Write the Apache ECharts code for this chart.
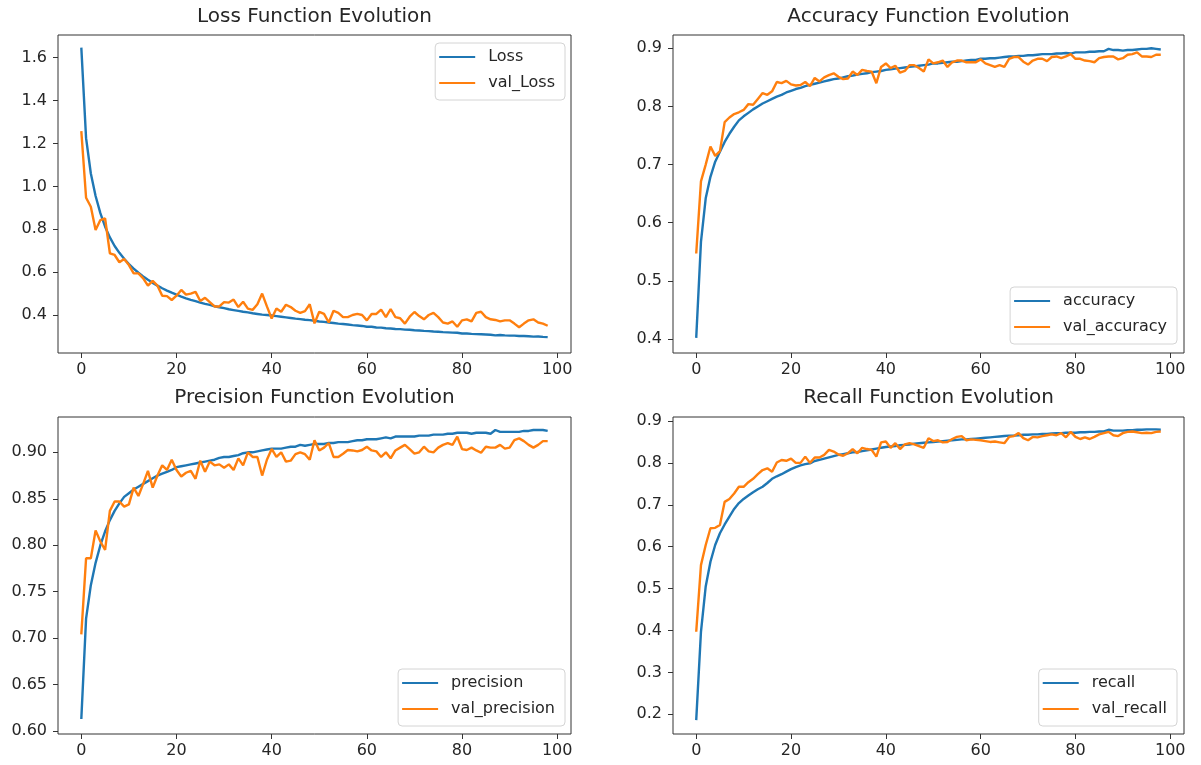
<!DOCTYPE html>
<html>
<head>
<meta charset="utf-8">
<script src="https://cdn.jsdelivr.net/npm/echarts@6/dist/echarts.min.js"></script>
<style>
html,body{margin:0;padding:0;background:#fff;}
#chart{width:1201px;height:765px;}
</style>
</head>
<body>
<div id="chart"></div>
<script>
// ---------- data ----------
const epochs = Array.from({length: 99}, (_, i) => i);

const titles = ['Loss Function Evolution', 'Accuracy Function Evolution', 'Precision Function Evolution', 'Recall Function Evolution'];
const seriesNames = [['Loss', 'val_Loss'], ['accuracy', 'val_accuracy'], ['precision', 'val_precision'], ['recall', 'val_recall']];

const xTicks = [0, 20, 40, 60, 80, 100];
const lossTicks = [0.4, 0.6, 0.8, 1.0, 1.2, 1.4, 1.6];
const accTicks = [0.4, 0.5, 0.6, 0.7, 0.8, 0.9];
const precTicks = [0.60, 0.65, 0.70, 0.75, 0.80, 0.85, 0.90];
const recTicks = [0.2, 0.3, 0.4, 0.5, 0.6, 0.7, 0.8, 0.9];

const loss = [1.647,1.225,1.06,0.955,0.875,0.812,0.762,0.722,0.69,0.662,
0.638,0.616,0.597,0.58,0.564,0.55,0.537,0.525,0.514,0.504,
0.495,0.486,0.478,0.471,0.465,0.458,0.452,0.447,0.441,0.436,
0.432,0.427,0.423,0.419,0.415,0.412,0.408,0.405,0.402,0.4,
0.398,0.395,0.392,0.389,0.386,0.383,0.381,0.378,0.376,0.373,
0.37,0.368,0.365,0.363,0.36,0.358,0.356,0.353,0.351,0.349,
0.345,0.345,0.342,0.341,0.338,0.337,0.335,0.334,0.332,0.331,
0.329,0.328,0.326,0.325,0.323,0.322,0.32,0.319,0.318,0.317,
0.314,0.314,0.312,0.311,0.31,0.309,0.308,0.305,0.307,0.305,
0.304,0.304,0.302,0.302,0.301,0.299,0.3,0.298,0.297];

const valLoss = [1.258,0.947,0.905,0.796,0.843,0.851,0.688,0.68,0.646,0.661,
0.633,0.594,0.594,0.571,0.537,0.559,0.537,0.49,0.488,0.47,
0.49,0.517,0.495,0.5,0.508,0.465,0.48,0.46,0.44,0.44,
0.46,0.458,0.472,0.437,0.462,0.43,0.424,0.45,0.5,0.44,
0.384,0.43,0.415,0.448,0.437,0.42,0.41,0.418,0.45,0.361,
0.415,0.405,0.365,0.42,0.41,0.39,0.39,0.4,0.405,0.4,
0.375,0.405,0.405,0.425,0.39,0.428,0.39,0.385,0.36,0.392,
0.414,0.395,0.38,0.4,0.41,0.39,0.365,0.36,0.37,0.345,
0.375,0.38,0.37,0.41,0.415,0.39,0.38,0.377,0.37,0.375,
0.375,0.36,0.343,0.36,0.375,0.38,0.365,0.36,0.35];

const acc = [0.402,0.567,0.642,0.679,0.705,0.722,0.739,0.753,0.765,0.776,
0.783,0.789,0.795,0.8,0.805,0.809,0.813,0.817,0.82,0.824,
0.827,0.83,0.832,0.835,0.837,0.839,0.841,0.843,0.845,0.847,
0.848,0.85,0.852,0.853,0.855,0.856,0.857,0.859,0.86,0.861,
0.863,0.864,0.865,0.866,0.867,0.868,0.869,0.87,0.871,0.872,
0.874,0.874,0.875,0.876,0.877,0.877,0.878,0.879,0.88,0.88,
0.882,0.882,0.883,0.883,0.884,0.885,0.886,0.886,0.887,0.887,
0.888,0.888,0.889,0.89,0.89,0.89,0.891,0.891,0.892,0.891,
0.893,0.893,0.893,0.894,0.894,0.895,0.895,0.899,0.897,0.897,
0.896,0.897,0.897,0.898,0.899,0.899,0.9,0.899,0.898];

const valAcc = [0.547,0.671,0.7,0.731,0.715,0.723,0.773,0.781,0.787,0.79,
0.794,0.804,0.803,0.813,0.823,0.82,0.826,0.842,0.84,0.844,
0.838,0.836,0.837,0.842,0.835,0.849,0.843,0.85,0.854,0.857,
0.851,0.847,0.848,0.86,0.854,0.863,0.861,0.86,0.84,0.868,
0.874,0.866,0.87,0.858,0.861,0.871,0.871,0.866,0.86,0.881,
0.874,0.876,0.879,0.868,0.876,0.879,0.879,0.876,0.876,0.876,
0.881,0.874,0.871,0.868,0.871,0.868,0.882,0.885,0.885,0.877,
0.872,0.879,0.882,0.882,0.878,0.885,0.886,0.883,0.886,0.89,
0.882,0.882,0.879,0.878,0.876,0.883,0.885,0.886,0.886,0.881,
0.883,0.889,0.89,0.893,0.886,0.886,0.885,0.889,0.889];

const prec = [0.613,0.721,0.757,0.781,0.8,0.815,0.827,0.837,0.845,0.852,
0.856,0.86,0.863,0.866,0.869,0.872,0.875,0.877,0.879,0.881,
0.884,0.885,0.886,0.887,0.888,0.889,0.89,0.891,0.892,0.894,
0.895,0.895,0.896,0.897,0.899,0.9,0.9,0.901,0.902,0.903,
0.904,0.904,0.904,0.905,0.906,0.906,0.908,0.907,0.908,0.909,
0.909,0.909,0.91,0.91,0.911,0.911,0.911,0.912,0.913,0.913,
0.914,0.914,0.914,0.915,0.916,0.915,0.917,0.917,0.917,0.917,
0.917,0.918,0.918,0.918,0.919,0.919,0.919,0.92,0.92,0.921,
0.921,0.921,0.92,0.921,0.921,0.921,0.92,0.924,0.922,0.922,
0.922,0.922,0.922,0.923,0.923,0.924,0.924,0.924,0.923];

const valPrec = [0.704,0.786,0.786,0.816,0.804,0.795,0.837,0.847,0.847,0.8415,
0.844,0.862,0.853,0.866,0.88,0.862,0.875,0.886,0.881,0.892,
0.881,0.874,0.878,0.88,0.8715,0.891,0.879,0.89,0.886,0.887,
0.8835,0.887,0.881,0.8935,0.886,0.9,0.895,0.895,0.875,0.892,
0.9036,0.895,0.9,0.89,0.891,0.898,0.9,0.898,0.892,0.913,
0.902,0.905,0.91,0.895,0.895,0.8985,0.9025,0.902,0.901,0.9025,
0.906,0.902,0.901,0.895,0.9,0.8935,0.902,0.905,0.908,0.9035,
0.8985,0.9,0.906,0.901,0.9,0.905,0.908,0.91,0.908,0.9168,
0.9035,0.9025,0.905,0.902,0.8995,0.906,0.905,0.905,0.908,0.904,
0.905,0.913,0.915,0.912,0.908,0.905,0.908,0.912,0.912];

const rec = [0.186,0.397,0.505,0.564,0.604,0.632,0.653,0.672,0.69,0.704,
0.714,0.722,0.73,0.737,0.743,0.752,0.762,0.768,0.773,0.779,
0.785,0.79,0.794,0.797,0.799,0.8045,0.807,0.81,0.813,0.816,
0.819,0.821,0.823,0.825,0.826,0.828,0.83,0.832,0.834,0.836,
0.838,0.839,0.84,0.842,0.843,0.844,0.846,0.847,0.848,0.849,
0.85,0.851,0.852,0.853,0.854,0.855,0.856,0.856,0.857,0.858,
0.859,0.86,0.861,0.862,0.863,0.864,0.865,0.865,0.866,0.867,
0.867,0.868,0.868,0.869,0.869,0.87,0.871,0.871,0.872,0.872,
0.872,0.873,0.873,0.874,0.874,0.875,0.875,0.879,0.877,0.877,
0.877,0.878,0.878,0.879,0.879,0.88,0.88,0.88,0.879];

const valRec = [0.397,0.556,0.604,0.644,0.645,0.652,0.707,0.714,0.727,0.743,
0.743,0.754,0.762,0.773,0.783,0.787,0.779,0.801,0.807,0.805,
0.81,0.8,0.8,0.815,0.8,0.813,0.813,0.819,0.831,0.827,
0.82,0.817,0.823,0.833,0.823,0.836,0.833,0.831,0.815,0.849,
0.851,0.836,0.847,0.833,0.844,0.847,0.844,0.84,0.836,0.859,
0.852,0.854,0.849,0.85,0.857,0.862,0.864,0.854,0.856,0.855,
0.854,0.852,0.85,0.851,0.849,0.847,0.862,0.864,0.871,0.859,
0.854,0.862,0.861,0.864,0.866,0.868,0.866,0.871,0.861,0.874,
0.862,0.857,0.861,0.857,0.862,0.868,0.871,0.874,0.866,0.864,
0.871,0.874,0.875,0.873,0.871,0.872,0.871,0.874,0.875];

// ---------- chart ----------
const FONT = 'DejaVu Sans';
const TXT = '#262626';
const BLUE = '#1f77b4', ORANGE = '#ff7f0e';

const grids = [
  {left: 58, top: 35, width: 513, height: 318},
  {left: 673, top: 35, width: 511, height: 318},
  {left: 58, top: 417, width: 513, height: 317},
  {left: 673, top: 417, width: 511, height: 317}
];
const yRanges = [[0.2228, 1.706], [0.3759, 0.9229], [0.5968, 0.938], [0.153, 0.9095]];
const yTickSets = [lossTicks, accTicks, precTicks, recTicks];
const yDecimals = [1, 1, 2, 1];
const dataSets = [[loss, valLoss], [acc, valAcc], [prec, valPrec], [rec, valRec]];
const titlePos = [[314.5, 7], [928.5, 7], [314.5, 388], [928.5, 388]];
const legendPos = [
  {right: 636, top: 43},
  {right: 24, top: 287},
  {right: 636, top: 669},
  {right: 24, top: 669}
];

const option = {
  animation: false,
  backgroundColor: '#fff',
  title: titles.map((t, k) => ({
    text: t,
    left: titlePos[k][0],
    top: titlePos[k][1],
    textAlign: 'center',
    padding: 0,
    textStyle: {fontFamily: FONT, fontSize: 20, fontWeight: 'normal', color: TXT}
  })),
  legend: seriesNames.map((names, k) => Object.assign({
    data: names,
    orient: 'vertical',
    icon: 'rect',
    itemWidth: 36,
    itemHeight: 2,
    itemGap: 10,
    padding: [6, 10, 9, 4],
    borderColor: '#d4d4d4',
    borderWidth: 1,
    borderRadius: 4,
    backgroundColor: 'rgba(255,255,255,0.8)',
    selectedMode: false,
    textStyle: {fontFamily: FONT, fontSize: 16, color: TXT, padding: [0, 0, 0, 8]}
  }, legendPos[k])),
  grid: grids.map(g => Object.assign({show: true, borderColor: '#333', borderWidth: 1, backgroundColor: 'transparent'}, g)),
  xAxis: grids.map((g, k) => ({
    type: 'value',
    gridIndex: k,
    min: -4.9,
    max: 102.9,
    axisLine: {show: false, onZero: false},
    splitLine: {show: false},
    axisTick: {show: true, customValues: xTicks, length: 5, lineStyle: {color: '#333'}},
    axisLabel: {customValues: xTicks, margin: 9, fontFamily: FONT, fontSize: 16, color: TXT}
  })),
  yAxis: grids.map((g, k) => ({
    type: 'value',
    gridIndex: k,
    min: yRanges[k][0],
    max: yRanges[k][1],
    axisLine: {show: false, onZero: false},
    splitLine: {show: false},
    axisTick: {show: true, customValues: yTickSets[k], length: 5, lineStyle: {color: '#333'}},
    axisLabel: {customValues: yTickSets[k], margin: 11, fontFamily: FONT, fontSize: 16, color: TXT,
      formatter: v => Number(v).toFixed(yDecimals[k])}
  })),
  series: []
};

dataSets.forEach((pair, k) => {
  pair.forEach((vals, j) => {
    option.series.push({
      type: 'line',
      name: seriesNames[k][j],
      xAxisIndex: k,
      yAxisIndex: k,
      data: vals.map((v, i) => [epochs[i], v]),
      showSymbol: false,
      symbol: 'none',
      color: j === 0 ? BLUE : ORANGE,
      lineStyle: {width: 2.4, color: j === 0 ? BLUE : ORANGE},
      z: 2 + j
    });
  });
});

const chart = echarts.init(document.getElementById('chart'), null, {renderer: 'canvas'});
chart.setOption(option);
</script>
</body>
</html>
